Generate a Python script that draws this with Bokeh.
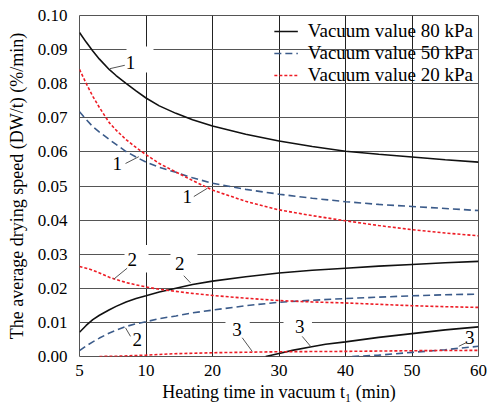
from bokeh.plotting import figure
from bokeh.models import FixedTicker, Legend, LegendItem, Range1d, PrintfTickFormatter
from bokeh.core.properties import value
from bokeh.embed import file_html
from bokeh.resources import INLINE

# x positions on the axis: 0 is labelled "5", then 10 ... 60
x_ticks = [0, 10, 20, 30, 40, 50, 60]
x_tick_labels = ["5", "10", "20", "30", "40", "50", "60"]
y_ticks = [0.0, 0.01, 0.02, 0.03, 0.04, 0.05, 0.06, 0.07, 0.08, 0.09, 0.10]

x12 = [0, 1, 2, 3, 4.5, 5.5, 7, 8.5, 10, 12, 14.5, 17, 20, 25, 30, 35, 40, 45, 50, 55, 60]
black_1 = [0.0950, 0.0922, 0.0896, 0.0872, 0.0841, 0.0824, 0.0801, 0.0779, 0.0758, 0.0735, 0.0713,
           0.0694, 0.0676, 0.0652, 0.0632, 0.0616, 0.0602, 0.0593, 0.0585, 0.0577, 0.0570]
blue_1 = [0.0718, 0.0695, 0.0674, 0.0658, 0.0636, 0.0622, 0.0601, 0.0585, 0.0570, 0.0555, 0.0540,
          0.0524, 0.0508, 0.0490, 0.0476, 0.0464, 0.0454, 0.0446, 0.0440, 0.0434, 0.0428]
red_1 = [0.0842, 0.0801, 0.0763, 0.0730, 0.0685, 0.0664, 0.0636, 0.0613, 0.0592, 0.0566, 0.0541,
         0.0516, 0.0488, 0.0455, 0.0430, 0.0413, 0.0398, 0.0384, 0.0372, 0.0362, 0.0354]
black_2 = [0.0071, 0.0091, 0.0108, 0.0121, 0.0137, 0.0147, 0.0160, 0.0170, 0.0178, 0.0189, 0.0200,
           0.0211, 0.0221, 0.0234, 0.0245, 0.0253, 0.0259, 0.0265, 0.0270, 0.0275, 0.0279]
blue_2 = [0.0017, 0.0031, 0.0043, 0.0054, 0.0069, 0.0077, 0.0088, 0.0096, 0.0102, 0.0111, 0.0119,
          0.0128, 0.0136, 0.0149, 0.0159, 0.0165, 0.0170, 0.0174, 0.0178, 0.0181, 0.0183]
red_2 = [0.0264, 0.0259, 0.0253, 0.0245, 0.0232, 0.0226, 0.0217, 0.0210, 0.0204, 0.0197, 0.0191,
         0.0185, 0.0179, 0.0171, 0.0164, 0.0160, 0.0157, 0.0153, 0.0149, 0.0146, 0.0144]

x_black_3 = [28, 30, 32, 34.7, 37, 40, 45, 50, 55, 60]
black_3 = [0.0, 0.0009, 0.0018, 0.0028, 0.0036, 0.0043, 0.0056, 0.0067, 0.0078, 0.0087]
x_blue_3 = [41, 45, 50, 55, 60]
blue_3 = [0.0, 0.0004, 0.0012, 0.0020, 0.0030]
x_red_3 = [3, 6, 10, 14, 20, 30, 40, 50, 60]
red_3 = [0.0, 0.0001, 0.0004, 0.0008, 0.0011, 0.0014, 0.0015, 0.0017, 0.0018]

# curve number labels
lab_text = ["1", "1", "1", "2", "2", "2", "3", "3", "3"]
lab_x = [7.67, 5.67, 16.2, 7.92, 15.08, 8.68, 23.7, 33.13, 58.7]
lab_y = [0.0863, 0.0566, 0.0469, 0.0284, 0.0274, 0.0050, 0.0079, 0.0089, 0.0055]
lead_x0 = [4.56, 6.92, 17.19, 5.16, 15.68, 6.92, 24.47, 33.49, 57.04]
lead_y0 = [0.0844, 0.0566, 0.0469, 0.0227, 0.0237, 0.0084, 0.0055, 0.0059, 0.0030]
lead_x1 = [6.81, 8.92, 19.2, 7.17, 16.69, 7.67, 25.97, 34.74, 58.3]
lead_y1 = [0.0854, 0.0586, 0.0493, 0.0259, 0.0216, 0.0059, 0.0015, 0.0030, 0.0042]
# white label backgrounds that cut the grid
box_l = [7.07, 6.77, 13.68, 21.95, 30.68]
box_r = [11.13, 10.38, 17.74, 25.6, 34.96]
box_b = [0.0833, 0.0246, 0.0254, 0.0070, 0.0070]
box_t = [0.0909, 0.0327, 0.0322, 0.0126, 0.0126]

BLACK = "#111111"
BLUE = "#3b5b8a"
RED = "#ee1c25"
FONT = "Liberation Serif"

p = figure(width=487, height=404, x_range=Range1d(0, 60), y_range=Range1d(0, 0.10),
           output_backend="svg", toolbar_location=None,
           min_border_left=79, min_border_right=9, min_border_top=15, min_border_bottom=47)

p.xaxis.ticker = FixedTicker(ticks=x_ticks)
p.xaxis.major_label_overrides = {t: s for t, s in zip(x_ticks, x_tick_labels)}
p.yaxis.ticker = FixedTicker(ticks=y_ticks)
p.yaxis.formatter = PrintfTickFormatter(format="%.2f")
p.xgrid.ticker = FixedTicker(ticks=x_ticks)
p.ygrid.ticker = FixedTicker(ticks=y_ticks)
p.xgrid.grid_line_color = "#222222"
p.ygrid.grid_line_color = "#555555"
p.xgrid.grid_line_width = 1
p.ygrid.grid_line_width = 1
p.outline_line_color = "#555555"

for ax in (p.xaxis, p.yaxis):
    ax.axis_line_color = None
    ax.major_tick_line_color = None
    ax.minor_tick_line_color = None
    ax.major_label_text_font = FONT
    ax.major_label_text_font_size = "17px"
    ax.major_label_text_color = "black"
    ax.axis_label_text_font = FONT
    ax.axis_label_text_font_size = "18px"
    ax.axis_label_text_font_style = "normal"
    ax.axis_label_text_color = "black"

p.xaxis.axis_label = "Heating time in vacuum t\u2081 (min)"
p.yaxis.axis_label = "The average drying speed (DW/t) (%/min)"
p.xaxis.major_label_standoff = 2
p.xaxis.axis_label_standoff = 3
p.yaxis.major_label_standoff = 6
p.yaxis.axis_label_standoff = 8

p.quad(left=box_l, right=box_r, bottom=box_b, top=box_t, fill_color="white", line_color=None)

r80 = p.line(x12, black_1, line_color=BLACK, line_width=1.6)
p.line(x12, black_2, line_color=BLACK, line_width=1.6)
p.line(x_black_3, black_3, line_color=BLACK, line_width=1.6)

r50 = p.line(x12, blue_1, line_color=BLUE, line_width=1.6, line_dash="7 4")
p.line(x12, blue_2, line_color=BLUE, line_width=1.6, line_dash="7 4")
p.line(x_blue_3, blue_3, line_color=BLUE, line_width=1.6, line_dash="7 4")

r20 = p.line(x12, red_1, line_color=RED, line_width=1.6, line_dash="3 2")
p.line(x12, red_2, line_color=RED, line_width=1.6, line_dash="3 2")
p.line(x_red_3, red_3, line_color=RED, line_width=1.6, line_dash="3 2")

p.segment(x0=lead_x0, y0=lead_y0, x1=lead_x1, y1=lead_y1, line_color="#555555", line_width=1)
p.text(x=lab_x, y=lab_y, text=lab_text, text_font=value(FONT), text_font_size=value("19px"),
       text_align="center", text_baseline="middle", text_color="black")

legend = Legend(items=[LegendItem(label="Vacuum value 80 kPa", renderers=[r80]),
                       LegendItem(label="Vacuum value 50 kPa", renderers=[r50]),
                       LegendItem(label="Vacuum value 20 kPa", renderers=[r20])],
                location="top_right")
legend.label_text_font = FONT
legend.label_text_font_size = "19px"
legend.label_text_color = "black"
legend.glyph_width = 24
legend.glyph_height = 20
legend.label_height = 20
legend.label_standoff = 10
legend.spacing = 0
legend.padding = 5
legend.margin = 0
legend.background_fill_alpha = 0
legend.border_line_alpha = 0
p.add_layout(legend)

open("out.html", "w").write(file_html(p, INLINE))
